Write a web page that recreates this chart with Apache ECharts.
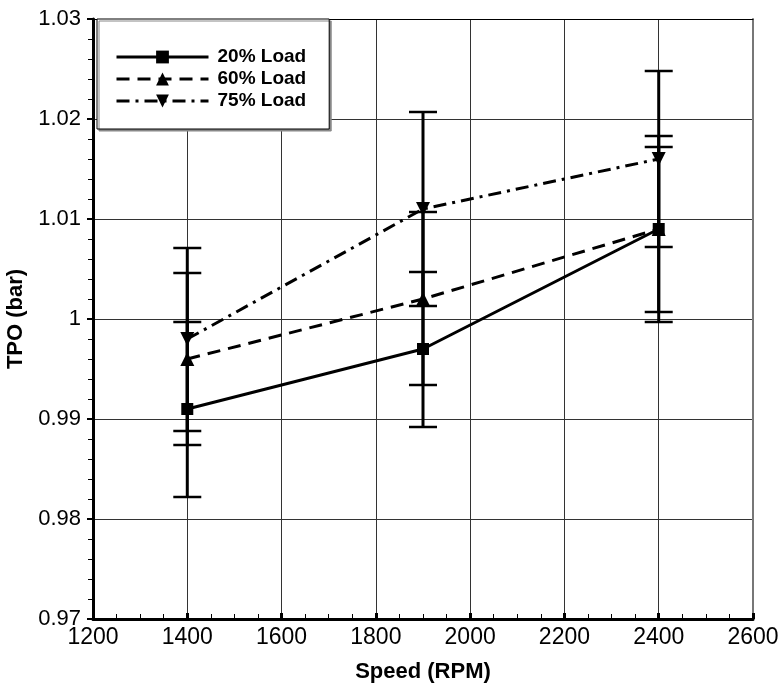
<!DOCTYPE html>
<html>
<head>
<meta charset="utf-8">
<script src="https://cdn.jsdelivr.net/npm/echarts@6/dist/echarts.min.js"></script>
<style>html,body{margin:0;padding:0;background:#fff;}#c{width:782px;height:689px;}</style>
</head>
<body>
<div id="c"></div>
<script>
var speeds = [1400, 1900, 2400];
var seriesNames = ['20% Load', '60% Load', '75% Load'];
var load20 = [0.991, 0.997, 1.009];
var load60 = [0.996, 1.002, 1.009];
var load75 = [0.998, 1.011, 1.016];
var err20Low = [0.9822, 0.9892, 0.9997];
var err20High = [0.9997, 1.0047, 1.0183];
var err60Low = [0.9874, 0.9934, 1.0007];
var err60High = [1.0046, 1.0107, 1.0172];
var err75Low = [0.9888, 1.0013, 1.0072];
var err75High = [1.0071, 1.0207, 1.0248];

var FONT = 'Liberation Sans, Arial, sans-serif';

function pairs(vals){ return speeds.map(function(s,i){ return [s, vals[i]]; }); }
function errData(lo, hi){ return speeds.map(function(s,i){ return [s, lo[i], hi[i]]; }); }

function errRender(params, api){
  var x = api.value(0);
  var lo = api.coord([x, api.value(1)]);
  var hi = api.coord([x, api.value(2)]);
  var hw = 14;
  var st = {stroke:'#000', lineWidth:3};
  var cs = {stroke:'#000', lineWidth:2.5};
  return {type:'group', children:[
    {type:'line', shape:{x1:lo[0], y1:lo[1], x2:hi[0], y2:hi[1]}, style:st},
    {type:'line', shape:{x1:lo[0]-hw, y1:lo[1], x2:lo[0]+hw, y2:lo[1]}, style:cs},
    {type:'line', shape:{x1:hi[0]-hw, y1:hi[1], x2:hi[0]+hw, y2:hi[1]}, style:cs}
  ]};
}

var chart = echarts.init(document.getElementById('c'), null, {renderer:'canvas'});
var option = {
  backgroundColor:'#fff',
  animation:false,
  textStyle:{fontFamily:FONT, color:'#000'},
  grid:{left:93, right:29, top:19, bottom:70, containLabel:false, outerBoundsMode:'none'},
  legend:{
    left:97, top:19, orient:'vertical',
    padding:[28, 23, 18, 18],
    itemWidth:92, itemHeight:16, itemGap:2,
    backgroundColor:'#fff', borderColor:'#000', borderWidth:1,
    shadowColor:'#888', shadowBlur:0, shadowOffsetX:2, shadowOffsetY:2,
    lineStyle:{width:3, color:'#000'},
    itemStyle:{color:'#000'},
    textStyle:{fontFamily:FONT, fontWeight:'bold', fontSize:19, lineHeight:20, color:'#000', padding:[0,0,0,4]},
    data:seriesNames
  },
  xAxis:[{
    type:'value', min:1200, max:2600, interval:200,
    name:'Speed (RPM)', nameLocation:'middle', nameGap:42,
    nameTextStyle:{fontFamily:FONT, fontWeight:'bold', fontSize:22, color:'#000'},
    axisLine:{show:true, onZero:false, lineStyle:{color:'#000', width:3}},
    axisTick:{show:true, inside:true, length:6, lineStyle:{color:'#000', width:3}},
    minorTick:{show:true, splitNumber:4, length:5, lineStyle:{color:'#000', width:1}},
    axisLabel:{fontFamily:FONT, fontSize:23, color:'#000', margin:7, formatter:function(v){ return String(v); }},
    splitLine:{show:true, lineStyle:{color:'#333', width:1}}
  },{
    type:'value', min:1200, max:2600, interval:200, position:'top',
    axisLine:{show:true, onZero:false, lineStyle:{color:'#000', width:1}},
    axisTick:{show:false}, axisLabel:{show:false}, splitLine:{show:false}
  }],
  yAxis:[{
    type:'value', min:0.97, max:1.03, interval:0.01,
    name:'TPO (bar)', nameLocation:'middle', nameGap:55, nameRotate:90,
    nameTextStyle:{fontFamily:FONT, fontWeight:'bold', fontSize:22, color:'#000'},
    axisLine:{show:true, onZero:false, lineStyle:{color:'#000', width:3}},
    axisTick:{show:true, inside:false, length:6, lineStyle:{color:'#000', width:2}},
    minorTick:{show:true, splitNumber:5, length:5, lineStyle:{color:'#000', width:1}},
    axisLabel:{fontFamily:FONT, fontSize:22, color:'#000', margin:12},
    splitLine:{show:true, lineStyle:{color:'#333', width:1}}
  },{
    type:'value', min:0.97, max:1.03, interval:0.01, position:'right',
    axisLine:{show:true, onZero:false, lineStyle:{color:'#777', width:2}},
    axisTick:{show:false}, axisLabel:{show:false}, splitLine:{show:false}
  }],
  series:[
    {type:'custom', name:'err20', renderItem:errRender, data:errData(err20Low, err20High), encode:{x:0, y:[1,2]}, z:3, silent:true},
    {type:'custom', name:'err60', renderItem:errRender, data:errData(err60Low, err60High), encode:{x:0, y:[1,2]}, z:3, silent:true},
    {type:'custom', name:'err75', renderItem:errRender, data:errData(err75Low, err75High), encode:{x:0, y:[1,2]}, z:3, silent:true},
    {type:'line', name:seriesNames[0], data:pairs(load20), symbol:'rect', symbolSize:12,
      lineStyle:{color:'#000', width:3, type:'solid'}, itemStyle:{color:'#000'}, z:4},
    {type:'line', name:seriesNames[1], data:pairs(load60), symbol:'triangle', symbolSize:14,
      lineStyle:{color:'#000', width:3, type:[13,8]}, itemStyle:{color:'#000'}, z:4},
    {type:'line', name:seriesNames[2], data:pairs(load75), symbol:'triangle', symbolRotate:180, symbolSize:14,
      lineStyle:{color:'#000', width:3, type:[13,6,3,6]}, itemStyle:{color:'#000'}, z:4}
  ]
};
chart.setOption(option);
</script>
</body>
</html>
